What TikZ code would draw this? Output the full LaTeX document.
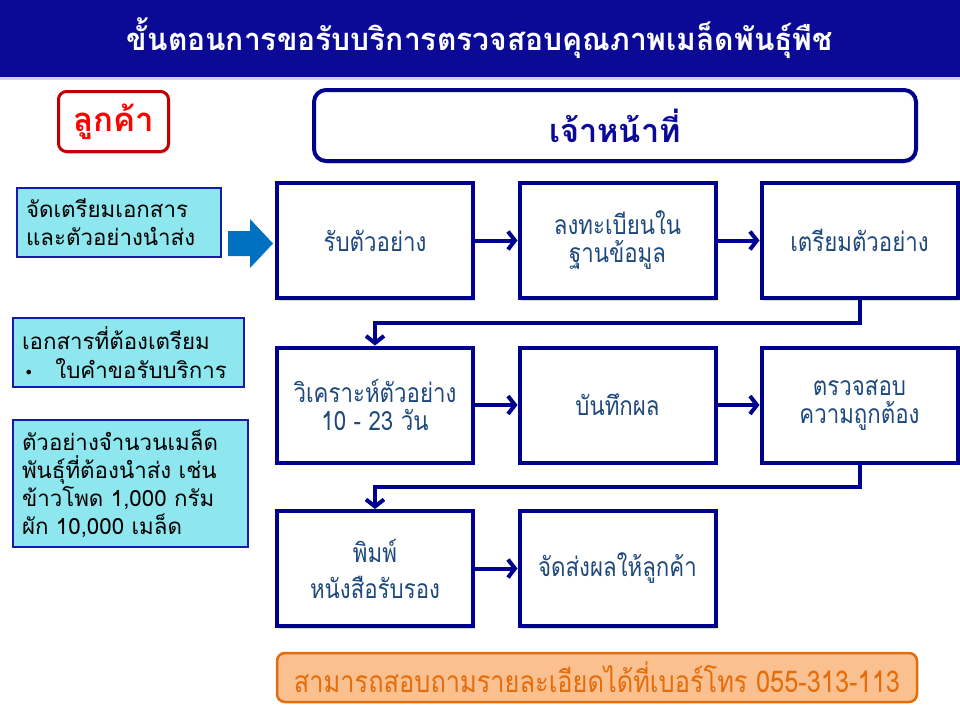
\documentclass[tikz,border=0pt]{standalone}
\usepackage{fontspec}
\usetikzlibrary{arrows.meta,shadows}
\newfontfamily\thai[Script=Thai]{Loma}
\newfontfamily\thaic[Script=Thai,FakeStretch=0.84]{Loma}
\newfontfamily\thait[Script=Thai,FakeStretch=0.8]{Loma}
\newfontfamily\symfont{DejaVu Sans}
\definecolor{cTitle}{HTML}{0A0A96}
\definecolor{cBox}{HTML}{00008E}
\definecolor{cText}{HTML}{1F497D}
\definecolor{cCyan}{HTML}{8EE6EE}
\definecolor{cLeftB}{HTML}{1A1AA6}
\definecolor{cArrow}{HTML}{0070C0}
\definecolor{cRedB}{HTML}{C00000}
\definecolor{cRed}{HTML}{FF0000}
\definecolor{cOrFill}{HTML}{FAC090}
\definecolor{cOrange}{HTML}{E46C0A}
\begin{document}
\begin{tikzpicture}[x=1pt,y=-1pt,
  shade1/.style={drop shadow={shadow xshift=1.5pt,shadow yshift=-2.5pt,opacity=.3}},
  flowbox/.style={draw=cBox,line width=4pt,fill=white,minimum width=196pt,minimum height=115pt,
    inner sep=2pt,align=center,text=cText,font=\thaic\fontsize{26.5}{28}\selectfont,shade1},
  leftbox/.style={draw=cLeftB,line width=1.3pt,fill=cCyan,align=left,text=black,
    inner xsep=9pt,inner ysep=2pt,font=\thai\fontsize{22.3}{28}\selectfont},
  conn/.style={draw=cBox,line width=4pt,-{Straight Barb[length=7pt,width=18pt]}},
  headbox/.style={line width=4pt,rounded corners=12pt,fill=white,shade1}]
\useasboundingbox (0,0) rectangle (960,720);

% title bar
\node[fill=cTitle,minimum width=960pt,minimum height=77pt,inner sep=0pt,text=white,
  font=\thait\bfseries\fontsize{31}{31}\selectfont,
  drop shadow={shadow xshift=0pt,shadow yshift=-3pt,opacity=.35}] (title) at (480,38.5)
  {\resizebox{706pt}{\height}{ขั้นตอนการขอรับบริการตรวจสอบคุณภาพเมล็ดพันธุ์พืช}};

% headers
\node[draw=cRedB,line width=3pt,rounded corners=8pt,fill=white,minimum width=110pt,minimum height=60pt,
  text=cRed,font=\thai\bfseries\fontsize{33}{33}\selectfont,shade1] (cust) at (113.5,121.5) {ลูกค้า};
\node[headbox,draw=cBox,minimum width=602pt,minimum height=71pt,text=cTitle,
  font=\thai\bfseries\fontsize{32.5}{33}\selectfont] (staff) at (615,125.5) {เจ้าหน้าที่};

% left boxes
\node[leftbox,minimum width=204pt,minimum height=69pt,text width=186pt] (l1) at (119,222.5)
  {จัดเตรียมเอกสาร\\และตัวอย่างนำส่ง};
\node[leftbox,minimum width=231pt,minimum height=69pt,text width=213pt] (l2) at (128.5,352.5)
  {เอกสารที่ต้องเตรียม\\[1pt]\hspace*{2pt}{\symfont\fontsize{16}{16}\selectfont •}\hspace{22pt}ใบคำขอรับบริการ};
\node[leftbox,minimum width=235pt,minimum height=127pt,text width=217pt] (l3) at (130.5,483.5)
  {ตัวอย่างจำนวนเมล็ด\\พันธุ์ที่ต้องนำส่ง เช่น\\ข้าวโพด 1,000 กรัม\\ผัก 10,000 เมล็ด};

% block arrow
\fill[cArrow] (228,231) -- (250,231) -- (250,219) -- (273,243.5) -- (250,268) -- (250,256) -- (228,256) -- cycle;

% flow boxes
\node[flowbox] (b1) at (375,240.5) {รับตัวอย่าง};
\node[flowbox] (b2) at (617.5,240.5) {ลงทะเบียนใน\\ฐานข้อมูล};
\node[flowbox] (b3) at (859.5,240.5) {เตรียมตัวอย่าง};
\node[flowbox] (b4) at (375,405) {วิเคราะห์ตัวอย่าง\\10 - 23 วัน};
\node[flowbox] (b5) at (617.5,405) {บันทึกผล};
\node[flowbox] (b6) at (859.5,405) {ตรวจสอบ\\ความถูกต้อง};
\node[flowbox] (b7) at (375,568.5) {พิมพ์\\[8pt]หนังสือรับรอง};
\node[flowbox] (b8) at (617.5,568.5) {จัดส่งผลให้ลูกค้า};

% connectors
\draw[conn] (b1) -- (b2);
\draw[conn] (b2) -- (b3);
\draw[conn] (b4) -- (b5);
\draw[conn] (b5) -- (b6);
\draw[conn] (b7) -- (b8);
\draw[conn] (b3.south) -- ++(0,23) -| (b4.north);
\draw[conn] (b6.south) -- ++(0,22) -| (b7.north);

% bottom note
\node[draw=cOrange,line width=2.5pt,fill=cOrFill,rounded corners=8pt,minimum width=640pt,minimum height=49pt,
  text=cOrange,font=\thait\fontsize{30}{30}\selectfont] (note) at (597,677.5)
  {\resizebox{606pt}{\height}{สามารถสอบถามรายละเอียดได้ที่เบอร์โทร 055-313-113}};
\end{tikzpicture}
\end{document}
